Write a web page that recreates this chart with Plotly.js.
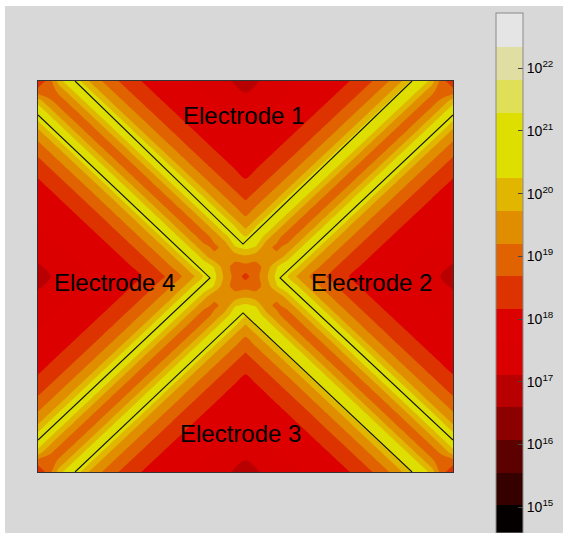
<!DOCTYPE html>
<html><head><meta charset="utf-8">
<script src="https://cdn.plot.ly/plotly-3.0.1.min.js"></script>
<style>
html,body{margin:0;padding:0;background:#ffffff;width:563px;height:533px;overflow:hidden;}
#plot{position:absolute;left:5px;top:6px;width:558px;height:527px;}
</style></head><body><div id="plot"></div>
<script>
// log10 concentration, lower-left quarter of the device (rows = y from bottom, cols = x from left)
const zQuarter = [
 [18.3,18.85,19.95,20.7,20.3,19.65,19.25,18.95,18.6,18.4,18.15,18.05,17.9,17.8,17.7,17.62,17.55,17.5,17.25,17.05,16.7],
 [18.85,18.8,19.35,19.95,20.7,20.3,19.65,19.25,18.95,18.6,18.4,18.15,18.05,17.9,17.8,17.7,17.62,17.55,17.4,17.2,17.05],
 [19.95,19.35,18.95,19.35,19.95,20.7,20.3,19.65,19.25,18.95,18.6,18.4,18.15,18.05,17.9,17.8,17.7,17.62,17.55,17.5,17.35],
 [20.7,19.95,19.35,18.95,19.35,19.95,20.7,20.3,19.65,19.25,18.95,18.6,18.4,18.15,18.05,17.9,17.8,17.7,17.62,17.55,17.5],
 [20.3,20.7,19.95,19.35,18.95,19.35,19.95,20.7,20.3,19.65,19.25,18.95,18.6,18.4,18.15,18.05,17.9,17.8,17.7,17.62,17.55],
 [19.65,20.3,20.7,19.95,19.35,18.95,19.35,19.95,20.7,20.3,19.65,19.25,18.95,18.6,18.4,18.15,18.05,17.9,17.8,17.7,17.62],
 [19.25,19.65,20.3,20.7,19.95,19.35,18.95,19.35,19.95,20.7,20.3,19.65,19.25,18.95,18.6,18.4,18.15,18.05,17.9,17.8,17.7],
 [18.95,19.25,19.65,20.3,20.7,19.95,19.35,18.95,19.35,19.95,20.7,20.3,19.65,19.25,18.95,18.6,18.4,18.15,18.05,17.9,17.8],
 [18.6,18.95,19.25,19.65,20.3,20.7,19.95,19.35,18.95,19.35,19.95,20.7,20.3,19.65,19.25,18.95,18.6,18.4,18.15,18.05,17.9],
 [18.4,18.6,18.95,19.25,19.65,20.3,20.7,19.95,19.35,18.95,19.35,19.95,20.7,20.3,19.65,19.25,18.95,18.6,18.4,18.15,18.05],
 [18.15,18.4,18.6,18.95,19.25,19.65,20.3,20.7,19.95,19.35,18.95,19.35,19.95,20.7,20.3,19.65,19.25,18.95,18.6,18.4,18.15],
 [18.05,18.15,18.4,18.6,18.95,19.25,19.65,20.3,20.7,19.95,19.35,18.95,19.35,19.95,20.7,20.3,19.65,19.25,18.95,18.6,18.4],
 [17.9,18.05,18.15,18.4,18.6,18.95,19.25,19.65,20.3,20.7,19.95,19.35,18.95,19.35,19.95,20.7,20.3,19.65,19.25,18.95,18.6],
 [17.8,17.9,18.05,18.15,18.4,18.6,18.95,19.25,19.65,20.3,20.7,19.95,19.35,18.95,19.35,19.95,20.7,20.3,19.65,19.25,18.95],
 [17.7,17.8,17.9,18.05,18.15,18.4,18.6,18.95,19.25,19.65,20.3,20.7,19.95,19.35,18.95,19.35,19.95,20.7,20.3,19.65,19.25],
 [17.62,17.7,17.8,17.9,18.05,18.15,18.4,18.6,18.95,19.25,19.65,20.3,20.7,19.95,19.35,18.95,19.35,19.95,20.7,20.3,19.65],
 [17.55,17.62,17.7,17.8,17.9,18.05,18.15,18.4,18.6,18.95,19.25,19.65,20.3,20.7,19.95,19.35,18.95,19.35,19.95,20.7,20.3],
 [17.5,17.55,17.62,17.7,17.8,17.9,18.05,18.15,18.4,18.6,18.95,19.25,19.65,20.3,20.7,19.95,19.35,19.1,19.35,20.2,20.4],
 [17.25,17.4,17.55,17.62,17.7,17.8,17.9,18.05,18.15,18.4,18.6,18.95,19.25,19.65,20.3,20.7,19.95,19.35,19.3,19.4,19.6],
 [17.05,17.2,17.5,17.55,17.62,17.7,17.8,17.9,18.05,18.15,18.4,18.6,18.95,19.25,19.65,20.3,20.7,20.2,19.4,19.0,19.0],
 [16.7,17.05,17.35,17.5,17.55,17.62,17.7,17.8,17.9,18.05,18.15,18.4,18.6,18.95,19.25,19.65,20.3,20.4,19.6,19.0,18.5]
];

// electrode edges (black lines), in grid units (0..40)
const e1X = [3.57, 19.76, 36.05], e1Y = [40, 23.32, 40];
const e2X = [40, 23.33, 40],      e2Y = [36.52, 19.85, 3.27];
const e3X = [3.57, 19.76, 36.05], e3Y = [0, 16.27, 0];
const e4X = [0, 16.58, 0],        e4Y = [36.52, 19.85, 3.27];

// electrode labels
const labelText = ['Electrode 1','Electrode 2','Electrode 3','Electrode 4'];
const labelX = [19.76, 32.19, 19.47, 7.42];
const labelY = [36.5, 19.4, 3.95, 19.4];

// contour levels (log10) and colour of each band, lowest band first
const levelStart = 15.03, levelEnd = 22.33, levelCount = 15;
const bandColors = ['#050000','#340000','#5c0000','#8c0000','#b80000','#da0000','#dc0000','#dc3300',
                    '#e06200','#e08e00','#e0b600','#dede00','#dede00','#e0e058','#e0dea2','#e5e5e6'];
// colour bar span (log10) and ticks
const barMin = 14.59, barMax = 22.88;
const tickVals = [15,16,17,18,19,20,21,22];
const tickText = tickVals.map(v => '10<sup>' + v + '</sup>');

// full field built by mirroring the quarter
const N = 2 * (zQuarter.length - 1);
const z = [];
for (let J = 0; J <= N; J++) {
  const row = [];
  for (let I = 0; I <= N; I++) row.push(zQuarter[Math.min(J, N - J)][Math.min(I, N - I)]);
  z.push(row);
}

const levelSize = (levelEnd - levelStart) / (levelCount - 1);
const nb = bandColors.length;
// contour fill colours: band m sampled at m/(nb-1)
const contourScale = bandColors.map((c, m) => [m / (nb - 1), c]);
// colour bar: hard-edged steps at the level boundaries
const barScale = [];
for (let b = 0; b < nb; b++) {
  const lo = b === 0 ? barMin : levelStart + (b - 1) * levelSize;
  const hi = b === nb - 1 ? barMax : levelStart + b * levelSize;
  barScale.push([Math.max(0, (lo - barMin) / (barMax - barMin)), bandColors[b]]);
  barScale.push([Math.min(1, (hi - barMin) / (barMax - barMin)), bandColors[b]]);
}

const traces = [
  { // carries the colour bar; fully covered by the contour fill
    type: 'heatmap', z: z, x0: 0, dx: 1, y0: 0, dy: 1, zsmooth: 'best',
    zmin: barMin, zmax: barMax, colorscale: barScale, hoverinfo: 'skip',
    colorbar: {
      x: 1.1036, xanchor: 'left', xpad: 0, y: 1.1739, yanchor: 'top', ypad: 0,
      len: 520, lenmode: 'pixels', thickness: 27, thicknessmode: 'pixels',
      outlinewidth: 1, outlinecolor: '#8a8a8a',
      tickmode: 'array', tickvals: tickVals, ticktext: tickText,
      ticks: 'inside', ticklen: 5, tickcolor: '#444',
      tickfont: {family: 'Liberation Sans, Arial, sans-serif', size: 14, color: '#000'}
    }
  },
  {
    type: 'contour', z: z, x0: 0, dx: 1, y0: 0, dy: 1,
    autocontour: false,
    contours: {start: levelStart, end: levelEnd, size: levelSize, coloring: 'fill', showlines: false},
    zauto: false, zmin: levelStart - levelSize / 2, zmax: levelStart + (levelCount - 0.5) * levelSize,
    colorscale: contourScale, showscale: false,
    line: {width: 0, smoothing: 0.6}, hoverinfo: 'skip'
  }
];
const lineStyle = {color: '#111111', width: 1.1};
[[e1X, e1Y], [e2X, e2Y], [e3X, e3Y], [e4X, e4Y]].forEach(p => traces.push({
  type: 'scatter', mode: 'lines', x: p[0], y: p[1], line: lineStyle, hoverinfo: 'skip', showlegend: false
}));

const layout = {
  width: 558, height: 527,
  margin: {l: 33, r: 110, t: 75, b: 61, pad: 0, autoexpand: false},
  paper_bgcolor: '#d8d8d8', plot_bgcolor: '#d8d8d8',
  showlegend: false,
  xaxis: {range: [0, N], showgrid: false, zeroline: false, showticklabels: false, ticks: '',
          showline: true, mirror: true, linecolor: '#333', linewidth: 1, fixedrange: true},
  yaxis: {range: [0, N], showgrid: false, zeroline: false, showticklabels: false, ticks: '',
          showline: true, mirror: true, linecolor: '#333', linewidth: 1, fixedrange: true},
  annotations: labelText.map((t, k) => ({
    text: t, x: labelX[k], y: labelY[k], xref: 'x', yref: 'y', showarrow: false,
    font: {family: 'Liberation Sans, Arial, sans-serif', size: 24, color: '#000'}
  }))
};
Plotly.newPlot('plot', traces, layout, {displayModeBar: false, staticPlot: true});
</script></body></html>
